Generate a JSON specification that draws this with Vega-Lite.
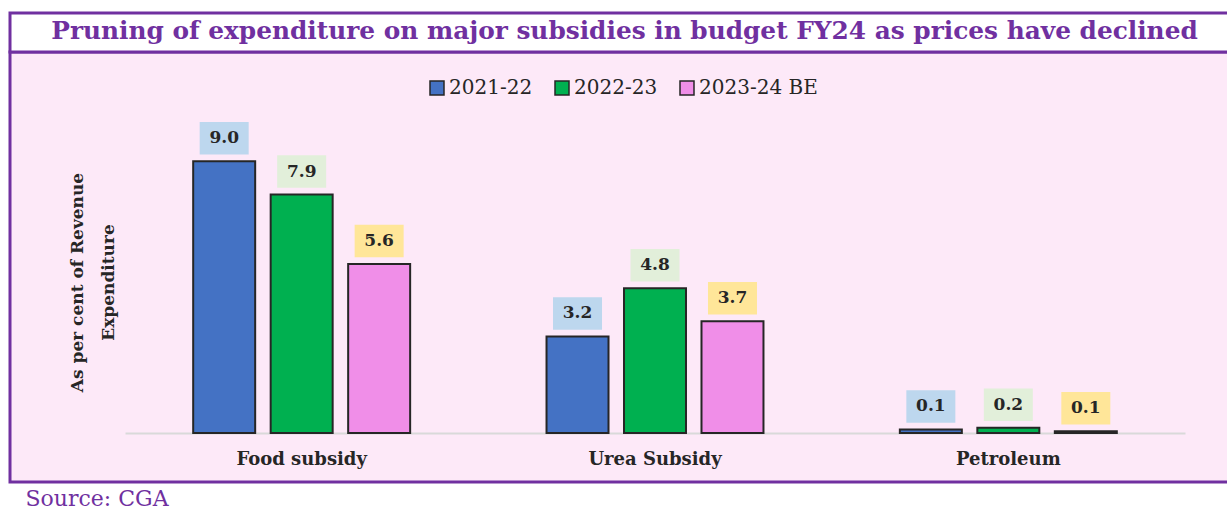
{
  "$schema": "https://vega.github.io/schema/vega-lite/v6.json",
  "width": 1221,
  "height": 430,
  "autosize": {"type": "none"},
  "padding": {"left": 10, "top": 52, "right": 0, "bottom": 27},
  "background": "white",
  "title": {
    "text": "Pruning of expenditure on major subsidies in budget FY24 as prices have declined",
    "font": "DejaVu Serif",
    "fontWeight": "bold",
    "fontSize": 24.8,
    "color": "#7030a0",
    "anchor": "middle",
    "frame": "group",
    "baseline": "alphabetic",
    "offset": -52,
    "dx": 4
  },
  "config": {
    "view": {"fill": "#fde9f8", "stroke": "#7030a0", "strokeWidth": 3}
  },
  "data": {
    "values": [
      {"category": "Food subsidy", "year": "2021-22", "value": 9.0},
      {"category": "Food subsidy", "year": "2022-23", "value": 7.9},
      {"category": "Food subsidy", "year": "2023-24 BE", "value": 5.6},
      {"category": "Urea Subsidy", "year": "2021-22", "value": 3.2},
      {"category": "Urea Subsidy", "year": "2022-23", "value": 4.8},
      {"category": "Urea Subsidy", "year": "2023-24 BE", "value": 3.7},
      {"category": "Petroleum", "year": "2021-22", "value": 0.12},
      {"category": "Petroleum", "year": "2022-23", "value": 0.18},
      {"category": "Petroleum", "year": "2023-24 BE", "value": 0.06}
    ]
  },
  "layer": [
    {
      "data": {"values": [{"box": "title"}]},
      "mark": {"type": "rect", "fill": "white", "stroke": "#7030a0", "strokeWidth": 3},
      "encoding": {
        "y": {"datum": 12.62, "type": "quantitative"},
        "y2": {"datum": 13.91}
      }
    },
    {
      "mark": {"type": "bar", "stroke": "#262626", "strokeWidth": 2},
      "encoding": {
        "x": {
          "field": "category",
          "type": "nominal",
          "sort": ["Food subsidy", "Urea Subsidy", "Petroleum"],
          "scale": {"range": [115, 1175], "paddingInner": 0, "paddingOuter": 0},
          "axis": {
            "orient": "bottom",
            "offset": -49,
            "domainColor": "#d9d9d9",
            "domainWidth": 2,
            "ticks": false,
            "labelAngle": 0,
            "labelFont": "DejaVu Serif",
            "labelFontWeight": "bold",
            "labelFontSize": 18,
            "labelColor": "#262626",
            "labelPadding": 17,
            "title": "Source: CGA",
            "titleFont": "DejaVu Serif",
            "titleFontWeight": "normal",
            "titleFontSize": 22,
            "titleColor": "#7030a0",
            "titleAnchor": null,
            "titleAlign": "left",
            "titleBaseline": "alphabetic",
            "titleX": 15,
            "titleY": 72
          }
        },
        "xOffset": {
          "field": "year",
          "type": "nominal",
          "sort": ["2021-22", "2022-23", "2023-24 BE"],
          "scale": {"paddingInner": 0.2, "paddingOuter": 0.88}
        },
        "y": {
          "field": "value",
          "type": "quantitative",
          "scale": {"domain": [-1.62, 12.62], "nice": false, "zero": false},
          "axis": {
            "orient": "left",
            "domain": false,
            "ticks": false,
            "labels": false,
            "grid": false,
            "title": ["As per cent of Revenue", "Expenditure"],
            "titleFont": "DejaVu Serif",
            "titleFontWeight": "bold",
            "titleFontSize": 17,
            "titleColor": "#262626",
            "titleLineHeight": 31,
            "titleAngle": -90,
            "titleAlign": "center",
            "titleBaseline": "middle",
            "titleAnchor": null,
            "titleX": 67,
            "titleY": 230
          }
        },
        "color": {
          "field": "year",
          "type": "nominal",
          "sort": ["2021-22", "2022-23", "2023-24 BE"],
          "scale": {"domain": ["2021-22", "2022-23", "2023-24 BE"], "range": ["#4472c4", "#00b050", "#f08ee8"]},
          "legend": {
            "orient": "none",
            "legendX": 417,
            "legendY": 26,
            "direction": "horizontal",
            "title": null,
            "symbolType": "square",
            "symbolSize": 196,
            "symbolStrokeColor": "#262626",
            "symbolStrokeWidth": 1.5,
            "labelFont": "DejaVu Serif",
            "labelFontSize": 20,
            "labelColor": "#262626",
            "labelOffset": 2,
            "columnPadding": 19,
            "padding": 0
          }
        }
      }
    },
    {
      "mark": {"type": "point", "shape": "M-1,-0.663H1V0.663H-1Z", "size": 2401, "filled": true, "opacity": 1, "strokeWidth": 0, "yOffset": -23},
      "encoding": {
        "x": {"field": "category", "type": "nominal", "sort": ["Food subsidy", "Urea Subsidy", "Petroleum"]},
        "xOffset": {"field": "year", "type": "nominal", "sort": ["2021-22", "2022-23", "2023-24 BE"]},
        "y": {"field": "value", "type": "quantitative"},
        "fill": {
          "field": "year",
          "type": "nominal",
          "scale": {"domain": ["2021-22", "2022-23", "2023-24 BE"], "range": ["#bdd7ee", "#e2efda", "#ffe699"]},
          "legend": null
        }
      }
    },
    {
      "mark": {"type": "text", "font": "DejaVu Serif", "fontWeight": "bold", "fontSize": 17, "color": "#262626", "baseline": "middle", "yOffset": -23},
      "encoding": {
        "x": {"field": "category", "type": "nominal", "sort": ["Food subsidy", "Urea Subsidy", "Petroleum"]},
        "xOffset": {"field": "year", "type": "nominal", "sort": ["2021-22", "2022-23", "2023-24 BE"]},
        "y": {"field": "value", "type": "quantitative"},
        "text": {"field": "value", "type": "quantitative", "format": ".1f"}
      }
    }
  ]
}
